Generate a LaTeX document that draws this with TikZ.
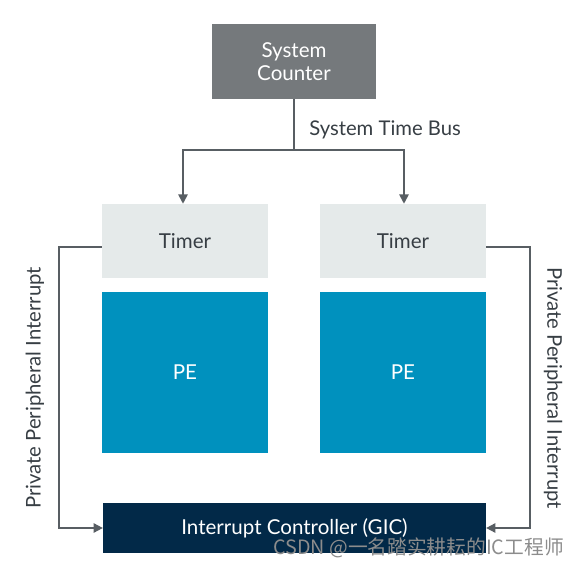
\documentclass[tikz,border=0pt]{standalone}
\usepackage{fontspec}
\setmainfont{Lato}
\newfontfamily\cjkfont{Noto Sans CJK SC}
\usepackage{tikz}
\usetikzlibrary{arrows.meta}
\usetikzlibrary{positioning}

\definecolor{countergray}{RGB}{117,121,124}
\definecolor{timergray}{RGB}{229,234,234}
\definecolor{peblue}{RGB}{0,145,190}
\definecolor{gicnavy}{RGB}{2,41,72}
\definecolor{wiregray}{RGB}{88,94,99}
\definecolor{labelgray}{RGB}{55,62,68}

\tikzset{
  blockbox/.style={draw=none, inner sep=0pt, align=center, font=\fontsize{15.4}{17.5}\selectfont},
  wire/.style={draw=wiregray, line width=1.3pt},
  wirearrow/.style={wire, -{Triangle[length=7pt,width=7pt]}},
  sidelabel/.style={inner sep=0.75pt, text=labelgray, font=\fontsize{15.2}{18}\selectfont}
}

\begin{document}
\begin{tikzpicture}[x=0.75pt,y=0.75pt,yscale=-1,xscale=1]
\useasboundingbox (0,0) rectangle (579,566);

%Shape: Rectangle [counter]
\node (counter) [blockbox, fill=countergray, text=white, minimum width=123pt, minimum height=56pt] at (294,61.5) {System\\Counter};

%Shape: Rectangle [timers]
\node (timerL) [blockbox, fill=timergray, text=labelgray, minimum width=124.5pt, minimum height=55.5pt] at (185,241) {Timer};
\node (timerR) [blockbox, fill=timergray, text=labelgray, minimum width=124.5pt, minimum height=55.5pt] at (403,241) {Timer};

%Shape: Rectangle [PEs]
\node (peL) [blockbox, fill=peblue, text=white, minimum width=124.5pt, minimum height=121pt] at (185,372.5) {PE};
\node (peR) [blockbox, fill=peblue, text=white, minimum width=124.5pt, minimum height=121pt] at (403,372.5) {PE};

%Shape: Rectangle [GIC]
\node (gic) [blockbox, fill=gicnavy, text=white, minimum width=287pt, minimum height=37.5pt] at (294.5,528) {Interrupt Controller (GIC)};

%Straight Lines [time bus]
\coordinate (busmid) at (294,150);
\coordinate (busL) at (183,150);
\coordinate (busR) at (404,150);
\draw [wire] (counter.south) -- (busmid);
\draw [wirearrow] (busmid) -- (busL) -- (busL |- timerL.north);
\draw [wirearrow] (busmid) -- (busR) -- (busR |- timerR.north);

%Straight Lines [interrupts]
\coordinate (ppiL) at (59,247);
\coordinate (ppiR) at (530,247);
\draw [wirearrow] (timerL.west |- ppiL) -- (ppiL) -- (ppiL |- gic.west) -- (gic.west);
\draw [wirearrow] (timerR.east |- ppiR) -- (ppiR) -- (ppiR |- gic.east) -- (gic.east);

% Text Node
\node (buslabel) [sidelabel, anchor=west] at (308,130) {System Time Bus};
% Text Node
\node (ppiLlabel) [sidelabel, rotate=90] at (35,388) {Private Peripheral Interrupt};
% Text Node
\node (ppiRlabel) [sidelabel, rotate=-90] at (553,388) {Private Peripheral Interrupt};
% Text Node
\node (mark) [inner sep=0pt, anchor=east, text=black!45, font=\cjkfont\fontsize{14.8}{17}\selectfont] at (564,548) {CSDN @一名踏实耕耘的IC工程师};

\end{tikzpicture}
\end{document}
